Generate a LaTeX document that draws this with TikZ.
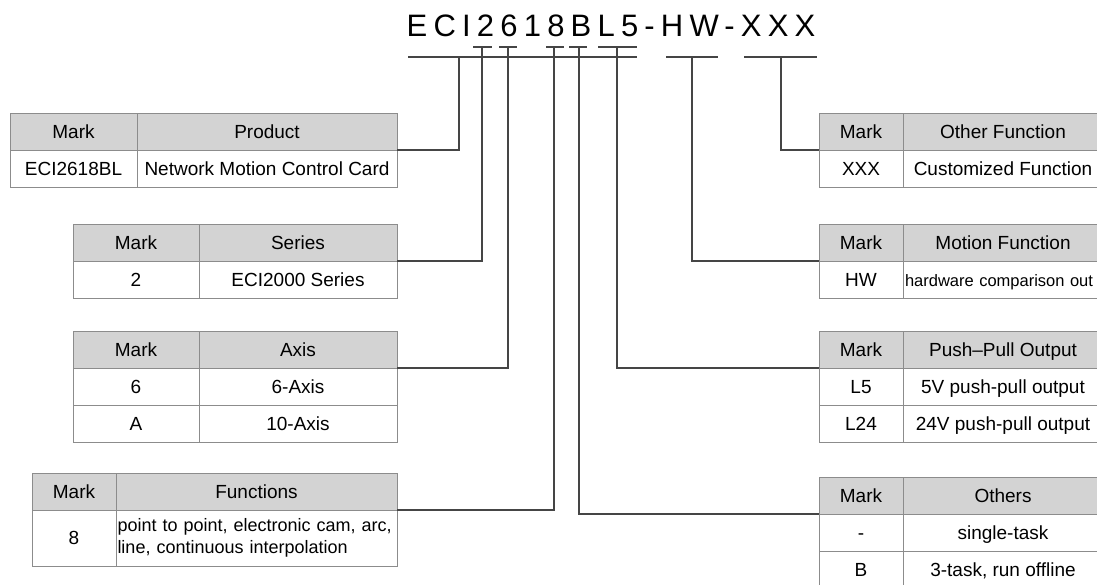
\documentclass[tikz,border=0pt]{standalone}
\usepackage{fontspec}
\setmainfont{Liberation Sans}
\usetikzlibrary{positioning}
\definecolor{CellGray}{HTML}{D3D3D3}
\definecolor{CellLine}{HTML}{8C8C8C}
\definecolor{LinkGray}{HTML}{454545}
\newcommand{\tabfont}{\fontsize{19}{22}\selectfont}
\tikzset{
  headcell/.style={draw=CellLine,fill=CellGray,line width=0.9pt,inner sep=0pt,
    outer sep=0pt,minimum height=37pt,text height=17pt,text depth=3.4pt,font=\tabfont},
  bodycell/.style={draw=CellLine,fill=white,line width=0.9pt,inner sep=0pt,
    outer sep=0pt,minimum height=37pt,text height=17pt,text depth=3.4pt,font=\tabfont},
  linkline/.style={draw=LinkGray,line width=1.1pt}
}

\begin{document}
\begin{tikzpicture}[x=1pt,y=-1pt]
  \useasboundingbox (0,0) rectangle (1097,585);
  \clip (0,0) rectangle (1097,585);
  % model code
  \node[anchor=base west,inner sep=0pt,
        font=\fontsize{31}{31}\selectfont\addfontfeature{LetterSpace=20}]
    (code) at (406.5,37) {ECI2618BL5-HW-XXX};
  % underlines below the code
  \draw[linkline] (408,57) -- (637,57);
  \draw[linkline] (666,57) -- (718,57);
  \draw[linkline] (744,57) -- (817,57);
  \foreach \xa/\xb in {473/492,499/517,546/564,569/587,598/637}
    \draw[linkline] (\xa,47) -- (\xb,47);
  \coordinate (tapP) at (459,57);
  \coordinate (tapS) at (482,47);
  \coordinate (tapA) at (508,47);
  \coordinate (tapF) at (554,47);
  \coordinate (tapO) at (579,47);
  \coordinate (tapL) at (617,47);
  \coordinate (tapH) at (692,57);
  \coordinate (tapX) at (781,57);
  % Product table
  \node[headcell,minimum width=127pt,anchor=north west] (ph1) at (10,113) {Mark};
  \node[headcell,minimum width=260pt,right=0pt of ph1] (ph2) {Product};
  \node[bodycell,minimum width=127pt,below=0pt of ph1] (pb1) {ECI2618BL};
  \node[bodycell,minimum width=260pt,below=0pt of ph2] (pb2) {Network Motion Control Card};
  % Series table
  \node[headcell,minimum width=126pt,anchor=north west] (sh1) at (73,224) {Mark};
  \node[headcell,minimum width=198pt,right=0pt of sh1] (sh2) {Series};
  \node[bodycell,minimum width=126pt,below=0pt of sh1] (sb1) {2};
  \node[bodycell,minimum width=198pt,below=0pt of sh2] (sb2) {ECI2000 Series};
  % Axis table
  \node[headcell,minimum width=126pt,anchor=north west] (ah1) at (73,331) {Mark};
  \node[headcell,minimum width=198pt,right=0pt of ah1] (ah2) {Axis};
  \node[bodycell,minimum width=126pt,below=0pt of ah1] (ab1) {6};
  \node[bodycell,minimum width=198pt,below=0pt of ah2] (ab2) {6-Axis};
  \node[bodycell,minimum width=126pt,below=0pt of ab1] (ac1) {A};
  \node[bodycell,minimum width=198pt,below=0pt of ab2] (ac2) {10-Axis};
  % Functions table
  \node[headcell,minimum width=84pt,anchor=north west] (fh1) at (32,473) {Mark};
  \node[headcell,minimum width=281pt,right=0pt of fh1] (fh2) {Functions};
  \node[bodycell,minimum width=84pt,minimum height=56pt,below=0pt of fh1] (fb1) {8};
  \node[bodycell,minimum width=281pt,minimum height=56pt,below=0pt of fh2,
        text height={},text depth={},
        text width=278pt,align=left,font=\fontsize{18}{22}\selectfont] (fb2)
    {point to point, electronic cam, arc,\\line, continuous interpolation};
  % Other Function table
  \node[headcell,minimum width=84pt,anchor=north west] (oh1) at (819,113) {Mark};
  \node[headcell,minimum width=200pt,right=0pt of oh1] (oh2) {Other Function};
  \node[bodycell,minimum width=84pt,below=0pt of oh1] (ob1) {XXX};
  \node[bodycell,minimum width=200pt,below=0pt of oh2] (ob2) {Customized Function};
  % Motion Function table
  \node[headcell,minimum width=84pt,anchor=north west] (mh1) at (819,224) {Mark};
  \node[headcell,minimum width=200pt,right=0pt of mh1] (mh2) {Motion Function};
  \node[bodycell,minimum width=84pt,below=0pt of mh1] (mb1) {HW};
  \node[bodycell,minimum width=200pt,below=0pt of mh2,text width=196pt,align=left,
        font=\fontsize{16.5}{19}\selectfont] (mb2) {hardware comparison out};
  % Push-Pull Output table
  \node[headcell,minimum width=84pt,anchor=north west] (uh1) at (819,331) {Mark};
  \node[headcell,minimum width=200pt,right=0pt of uh1] (uh2) {Push–Pull Output};
  \node[bodycell,minimum width=84pt,below=0pt of uh1] (ub1) {L5};
  \node[bodycell,minimum width=200pt,below=0pt of uh2] (ub2) {5V push-pull output};
  \node[bodycell,minimum width=84pt,below=0pt of ub1] (uc1) {L24};
  \node[bodycell,minimum width=200pt,below=0pt of ub2] (uc2) {24V push-pull output};
  % Others table
  \node[headcell,minimum width=84pt,anchor=north west] (xh1) at (819,477) {Mark};
  \node[headcell,minimum width=200pt,right=0pt of xh1] (xh2) {Others};
  \node[bodycell,minimum width=84pt,below=0pt of xh1] (xb1) {-};
  \node[bodycell,minimum width=200pt,below=0pt of xh2] (xb2) {single-task};
  \node[bodycell,minimum width=84pt,below=0pt of xb1] (xc1) {B};
  \node[bodycell,minimum width=200pt,below=0pt of xb2] (xc2) {3-task, run offline};
  % connectors
  \draw[linkline] (tapP) |- (ph2.south east);
  \draw[linkline] (tapS) |- (sh2.south east);
  \draw[linkline] (tapA) |- (ah2.south east);
  \draw[linkline] (tapF) |- (fh2.south east);
  \draw[linkline] (tapO) |- (xh1.south west);
  \draw[linkline] (tapL) |- (uh1.south west);
  \draw[linkline] (tapH) |- (mh1.south west);
  \draw[linkline] (tapX) |- (oh1.south west);
\end{tikzpicture}
\end{document}
